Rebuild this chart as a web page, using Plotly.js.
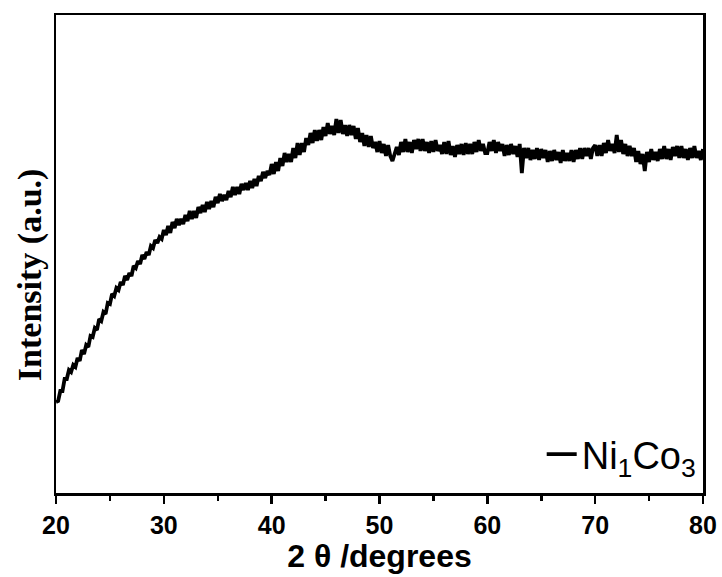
<!DOCTYPE html>
<html>
<head>
<meta charset="utf-8">
<script src="https://cdn.plot.ly/plotly-3.0.1.min.js"></script>
<style>html,body{margin:0;padding:0;background:#fff}#chart{width:722px;height:577px}</style>
</head>
<body>
<div id="chart"></div>
<script>
// 2θ start/step for the scan (degrees)
const twoThetaStart = 20.0;
const twoThetaStep = 0.2;

// Intensity (arbitrary units), one value per 0.2° from 20° to 80°
const intensity_20_30 = [
  91, 92, 102, 102, 114, 114, 123, 121, 128, 126,
  135, 132, 143, 139, 148, 146, 157, 156, 165, 163,
  174, 172, 181, 179, 190, 189, 199, 197, 205, 203,
  211, 208, 217, 213, 220, 217, 227, 225, 232, 229,
  238, 234, 241, 238, 247, 245, 253, 250, 256, 254
];
const intensity_30_40 = [
  263, 258, 267, 260, 271, 265, 274, 268, 274, 269,
  278, 272, 282, 274, 282, 275, 286, 280, 288, 281,
  291, 284, 292, 286, 296, 290, 299, 292, 298, 293,
  302, 296, 306, 298, 306, 299, 309, 303, 310, 303,
  312, 305, 314, 307, 317, 312, 321, 315, 322, 318
];
const intensity_40_50 = [
  329, 319, 331, 322, 335, 327, 340, 331, 339, 331,
  345, 335, 350, 338, 350, 341, 355, 348, 360, 350,
  363, 352, 363, 353, 366, 357, 370, 359, 367, 358,
  374, 360, 373, 359, 368, 357, 368, 358, 367, 354,
  365, 351, 360, 347, 358, 346, 357, 345, 351, 341
];
const intensity_50_60 = [
  352, 340, 349, 337, 348, 337, 332, 338, 346, 338,
  351, 341, 354, 341, 351, 340, 353, 344, 354, 342,
  354, 342, 351, 340, 352, 341, 353, 342, 348, 339,
  351, 339, 352, 338, 347, 336, 348, 339, 349, 338,
  350, 339, 349, 339, 351, 341, 353, 342, 349, 340
];
const intensity_60_70 = [
  340, 351, 342, 353, 340, 351, 342, 349, 337, 348,
  338, 349, 339, 347, 336, 349, 320, 345, 335, 345,
  333, 343, 334, 345, 333, 344, 335, 343, 331, 342,
  332, 343, 333, 341, 330, 343, 332, 340, 332, 343,
  331, 343, 334, 345, 334, 345, 337, 345, 334, 345
];
const intensity_70_80 = [
  348, 337, 348, 337, 350, 340, 353, 342, 349, 340,
  358, 341, 353, 339, 349, 337, 347, 337, 345, 331,
  342, 329, 339, 322, 341, 331, 344, 333, 341, 332,
  344, 334, 347, 334, 344, 333, 346, 337, 347, 335,
  347, 335, 344, 333, 345, 335, 347, 335, 342, 333,
  344
];

const intensity = [].concat(intensity_20_30, intensity_30_40, intensity_40_50,
  intensity_50_60, intensity_60_70, intensity_70_80);
const twoTheta = intensity.map((_, i) => +(twoThetaStart + i * twoThetaStep).toFixed(2));

const xTickVals = [20, 30, 40, 50, 60, 70, 80];
const seriesName = 'Ni<sub>1</sub>Co<sub>3</sub>';

const trace = {
  x: twoTheta,
  y: intensity,
  type: 'scatter',
  mode: 'lines',
  name: seriesName,
  line: {color: '#000000', width: 3.8},
  showlegend: true
};

const layout = {
  width: 722,
  height: 577,
  margin: {l: 56, r: 19, t: 15, b: 84},
  paper_bgcolor: '#ffffff',
  plot_bgcolor: '#ffffff',
  font: {family: '"Liberation Sans", Arial, sans-serif', color: '#000'},
  xaxis: {
    range: [20, 80],
    tickvals: xTickVals,
    ticktext: xTickVals.map(String),
    ticks: 'outside',
    ticklen: 8,
    tickwidth: 2.5,
    tickcolor: '#000',
    minor: {dtick: 5, tick0: 20, ticks: 'outside', ticklen: 5, tickwidth: 2.5, tickcolor: '#000'},
    showline: true,
    linewidth: 2.5,
    linecolor: '#000',
    mirror: true,
    showgrid: false,
    zeroline: false,
    tickfont: {family: '"Liberation Sans", Arial, sans-serif', size: 25, weight: 'bold', color: '#000'},
    title: {
      text: '2 θ /degrees',
      font: {family: '"Liberation Sans", Arial, sans-serif', size: 32, weight: 'bold', color: '#000'},
      standoff: 5
    }
  },
  yaxis: {
    range: [0, 478],
    showticklabels: false,
    ticks: '',
    showline: true,
    linewidth: 2.5,
    linecolor: '#000',
    mirror: true,
    showgrid: false,
    zeroline: false
  },
  annotations: [{
    text: 'Intensity (a.u.)',
    xref: 'paper', yref: 'paper',
    x: -0.040, y: 0.456,
    xanchor: 'center', yanchor: 'middle',
    textangle: -90,
    showarrow: false,
    font: {family: '"Liberation Serif", "Times New Roman", serif', size: 34, weight: 'bold', color: '#000'}
  }],
  legend: {
    x: 0.998, y: 0.015,
    xanchor: 'right', yanchor: 'bottom',
    bgcolor: 'rgba(0,0,0,0)',
    borderwidth: 0,
    font: {family: '"Liberation Sans", Arial, sans-serif', size: 38, color: '#000'}
  },
  showlegend: true
};

Plotly.newPlot('chart', [trace], layout, {displayModeBar: false, staticPlot: true});
</script>
</body>
</html>
